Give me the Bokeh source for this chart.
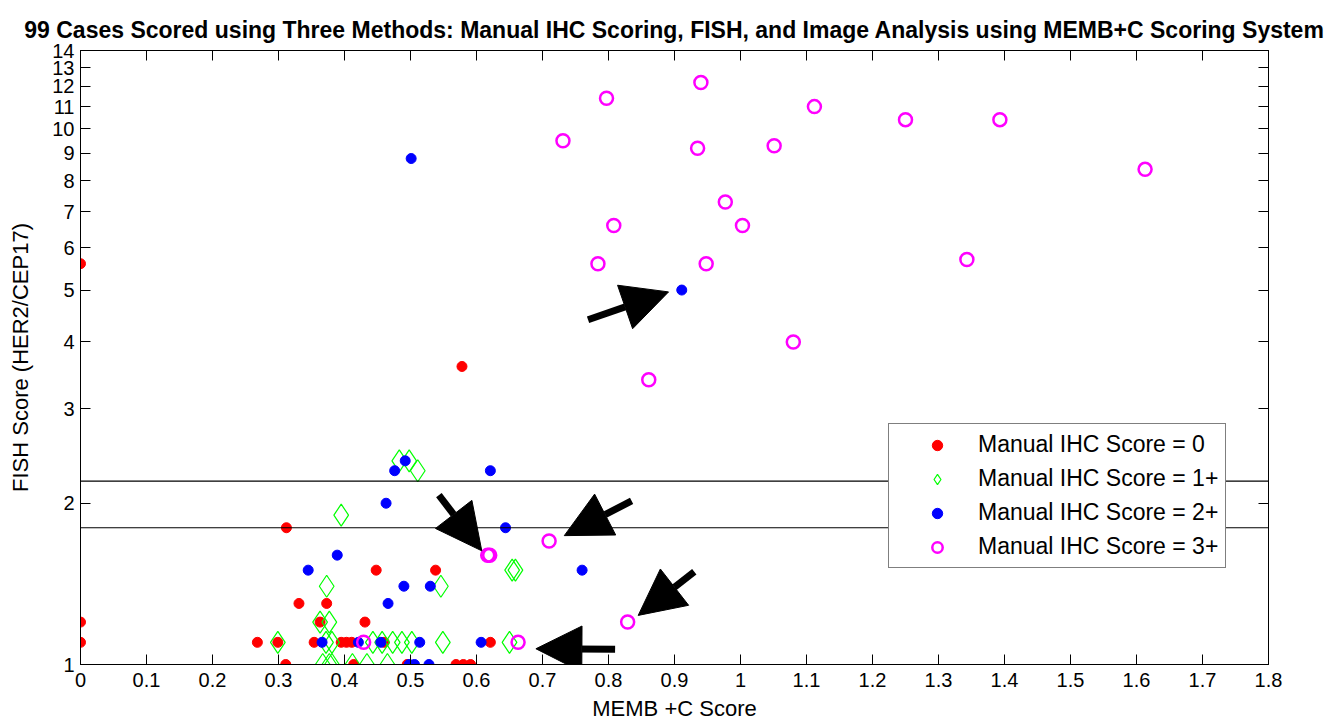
from bokeh.plotting import figure
from bokeh.models import (Range1d, LinearAxis, LogAxis, FixedTicker, CustomJSTickFormatter,
                          Span, Arrow, NormalHead)
from bokeh.embed import file_html
from bokeh.resources import INLINE

# ---------------- data ----------------
red_x = [0.0, 0.0, 0.0, 0.578, 0.312, 0.448, 0.538, 0.331, 0.373, 0.363, 0.431,
         0.268, 0.299, 0.354, 0.395, 0.403, 0.411, 0.460, 0.621,
         0.311, 0.414, 0.495, 0.569, 0.580, 0.591]
red_y = [5.6, 1.2, 1.1, 3.6, 1.8, 1.5, 1.5, 1.3, 1.3, 1.2, 1.2,
         1.1, 1.1, 1.1, 1.1, 1.1, 1.1, 1.1, 1.1,
         1.0, 1.0, 1.0, 1.0, 1.0, 1.0]

green_x = [0.483, 0.498, 0.511, 0.395, 0.373, 0.546, 0.363, 0.377, 0.654, 0.659,
           0.299, 0.372, 0.381, 0.443, 0.457, 0.473, 0.487, 0.502, 0.549, 0.650,
           0.367, 0.377, 0.381, 0.412, 0.434, 0.465]
green_y = [2.4, 2.4, 2.3, 1.9, 1.4, 1.4, 1.2, 1.2, 1.5, 1.5,
           1.1, 1.1, 1.1, 1.1, 1.1, 1.1, 1.1, 1.1, 1.1, 1.1,
           1.0, 1.0, 1.0, 1.0, 1.0, 1.0]

blue_x = [0.501, 0.911, 0.492, 0.476, 0.621, 0.463, 0.644, 0.389, 0.345, 0.760,
          0.490, 0.530, 0.466, 0.366, 0.421, 0.455, 0.514, 0.607, 0.498, 0.506, 0.528]
blue_y = [8.8, 5.0, 2.4, 2.3, 2.3, 2.0, 1.8, 1.6, 1.5, 1.5,
          1.4, 1.4, 1.3, 1.1, 1.1, 1.1, 1.1, 1.1, 1.0, 1.0, 1.0]

magenta_x = [0.940, 0.797, 0.731, 0.935, 1.051, 1.112, 0.977, 0.808, 1.003, 0.784,
             0.948, 1.080, 0.861, 1.250, 1.393, 1.613, 1.343, 0.710, 0.617, 0.620,
             0.829, 0.663, 0.429]
magenta_y = [12.2, 11.4, 9.5, 9.2, 9.3, 11.0, 7.3, 6.6, 6.6, 5.6,
             5.6, 4.0, 3.4, 10.4, 10.4, 8.4, 5.7, 1.7, 1.6, 1.6,
             1.2, 1.1, 1.1]

threshold_lines = [1.8, 2.2]

arrow_x_start = [0.769, 0.543, 0.835, 0.930, 0.810]
arrow_y_start = [4.40, 2.07, 2.02, 1.49, 1.068]
arrow_x_end = [0.891, 0.608, 0.733, 0.845, 0.690]
arrow_y_end = [4.96, 1.63, 1.74, 1.235, 1.070]

x_ticks = [round(0.1 * i, 1) for i in range(19)]
y_ticks = list(range(1, 15))

title_text = ("99 Cases Scored using Three Methods: Manual IHC Scoring, FISH, "
              "and Image Analysis using MEMB+C Scoring System")
x_label = "MEMB +C Score"
y_label = "FISH Score (HER2/CEP17)"
legend_labels = ["Manual IHC Score = 0", "Manual IHC Score = 1+",
                 "Manual IHC Score = 2+", "Manual IHC Score = 3+"]

FONT = "Liberation Sans"

# ---------------- figure ----------------
p = figure(width=1324, height=725, x_range=Range1d(0, 1.8), y_range=Range1d(1, 14),
           y_axis_type="log", output_backend="svg", toolbar_location=None,
           min_border_left=80, min_border_right=56, min_border_top=50,
           min_border_bottom=61)
p.background_fill_color = "white"
p.border_fill_color = "white"
p.outline_line_color = "black"
p.xgrid.visible = False
p.ygrid.visible = False

p.title.text = title_text
p.title.text_font = FONT
p.title.text_font_size = "23px"
p.title.text_font_style = "bold"
p.title.align = "center"
p.title.text_color = "black"
p.title.standoff = 16

xfmt = CustomJSTickFormatter(code="return String(Math.round(tick*10)/10);")
yfmt = CustomJSTickFormatter(code="return String(Math.round(tick));")

xa = p.xaxis[0]
xa.ticker = FixedTicker(ticks=x_ticks)
xa.formatter = xfmt
xa.axis_label = x_label
ya = p.yaxis[0]
ya.ticker = FixedTicker(ticks=y_ticks)
ya.formatter = yfmt
ya.axis_label = y_label

for ax in (xa, ya):
    ax.major_tick_in = 10
    ax.major_tick_out = 0
    ax.minor_tick_line_color = None
    ax.axis_line_color = "black"
    ax.major_tick_line_color = "black"
    ax.major_label_text_font = FONT
    ax.major_label_text_font_size = "20px"
    ax.major_label_text_color = "black"
    ax.axis_label_text_font = FONT
    ax.axis_label_text_font_size = "22px"
    ax.axis_label_text_font_style = "normal"
    ax.axis_label_text_color = "black"
xa.major_label_standoff = 8
xa.axis_label_standoff = 6
ya.major_label_standoff = 6
ya.axis_label_standoff = 16

top_ax = LinearAxis(ticker=FixedTicker(ticks=x_ticks), major_label_text_font_size="0px",
                    major_tick_in=10, major_tick_out=0, minor_tick_line_color=None,
                    major_label_standoff=0, major_label_text_alpha=0)
top_ax.major_label_overrides = {t: "" for t in x_ticks}
p.add_layout(top_ax, "above")
right_ax = LogAxis(ticker=FixedTicker(ticks=y_ticks), major_label_text_font_size="0px",
                   major_tick_in=10, major_tick_out=0, minor_tick_line_color=None,
                   major_label_standoff=0, major_label_text_alpha=0)
right_ax.major_label_overrides = {t: "" for t in y_ticks}
p.add_layout(right_ax, "right")

for v in threshold_lines:
    p.add_layout(Span(location=v, dimension="width", line_color="black", line_width=1.2))

r0 = p.scatter(red_x, red_y, marker="circle", size=10, fill_color="#ff0000",
               line_color="#ff0000", legend_label=legend_labels[0])
r1 = p.scatter(green_x, green_y, marker="diamond", size=22, fill_color=None,
               line_color="#00ff00", line_width=1.2, legend_label=legend_labels[1])
r2 = p.scatter(blue_x, blue_y, marker="circle", size=10, fill_color="#0000ff",
               line_color="#0000ff", legend_label=legend_labels[2])
r3 = p.scatter(magenta_x, magenta_y, marker="circle", size=13, fill_color=None,
               line_color="#ff00ff", line_width=2.5, legend_label=legend_labels[3])

for xs, ys, xe, ye in zip(arrow_x_start, arrow_y_start, arrow_x_end, arrow_y_end):
    p.add_layout(Arrow(end=NormalHead(size=46, fill_color="black", line_color="black"),
                       x_start=xs, y_start=ys, x_end=xe, y_end=ye,
                       line_color="black", line_width=7))

lg = p.legend[0]
lg.location = (808, 96)
lg.margin = 0
lg.padding = 7
lg.spacing = 7
lg.label_height = 26
lg.glyph_height = 26
lg.glyph_width = 82
lg.label_standoff = 0
lg.label_text_font = FONT
lg.label_text_font_size = "23px"
lg.label_text_color = "black"
lg.border_line_color = "black"
lg.border_line_width = 1
lg.background_fill_color = "white"
lg.background_fill_alpha = 1.0

open("out.html", "w").write(file_html(p, INLINE))
